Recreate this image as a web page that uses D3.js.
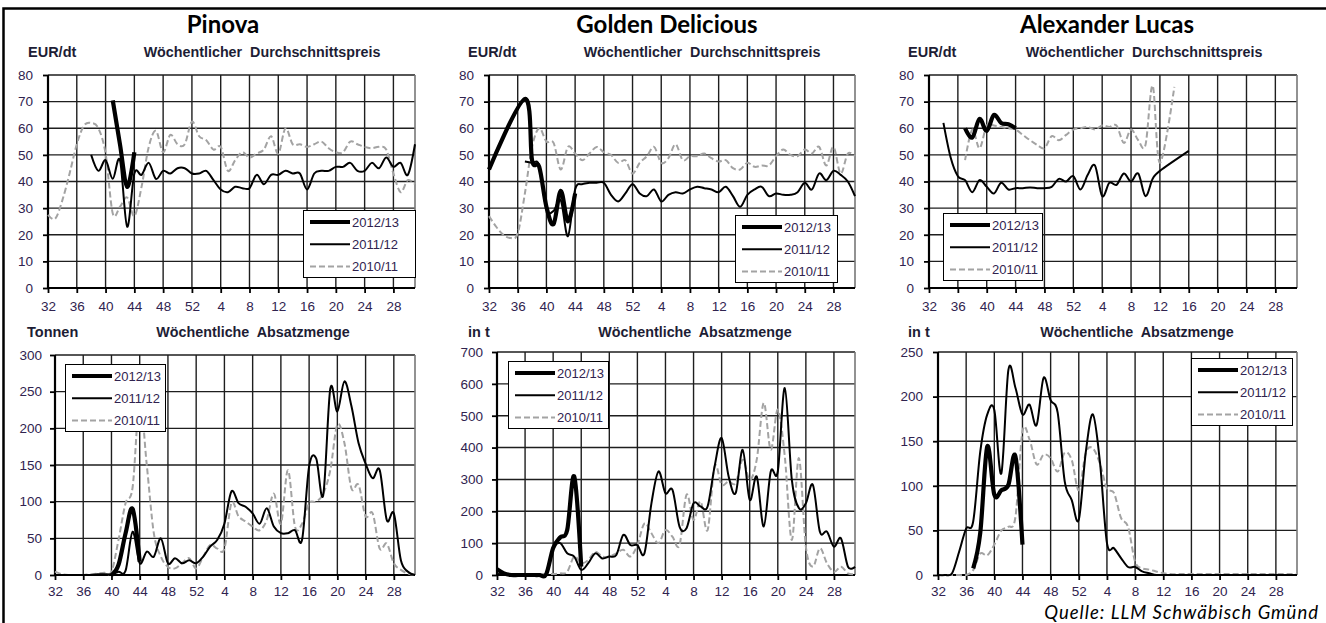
<!DOCTYPE html>
<html>
<head>
<meta charset="utf-8">
<script src="https://cdn.jsdelivr.net/npm/d3@7"></script>
<style>
body { margin: 0; background: #fff; }
svg { display: block; }
</style>
</head>
<body>
<svg id="chart" width="1326" height="623"></svg>
<script>
var _ = null;

// calendar weeks of the marketing season: 32..52, then 1..31
var weeks = d3.range(32, 53).concat(d3.range(1, 32));
var weekTicks = [32, 36, 40, 44, 48, 52, 4, 8, 12, 16, 20, 24, 28];
var seasons = ['2012/13', '2011/12', '2010/11'];
var varieties = ['Pinova', 'Golden Delicious', 'Alexander Lucas'];

// weekly average price, EUR/dt
var pinovaPrice1213 = [_,_,_,_,_,_,_,_,_,70.5,54,38,51,_,_,_,_,_,_,_,_,_,_,_,_,_,_,_,_,_,_,_,_,_,_,_,_,_,_,_,_,_,_,_,_,_,_,_,_,_,_,_];
var pinovaPrice1112 = [_,_,_,_,_,_,50,44,48,41,48,23,43,42.5,47,41,44,43,45,45,43,43,44,40.5,37,36,38,37.5,37.5,42.5,39,42.5,42.5,44,43,43,37,43,44,44,45.5,45.5,47,44,44,47,45,49,45.5,47,42.5,54];
var pinovaPrice1011 = [27.5,26,33,43,54,61,62,60,50.5,28,30.5,34,27,38,53,59,51,57.5,54,54,62.5,57,55.5,52,53,44,48,51,49,50.5,52,57,50.5,60,54,54,53,54,55,52.5,51,51,55,54,53,52.5,53,52,43,36,40.5,39];

var goldenPrice1213 = [44.5,_,_,_,_,71,48,45.5,30.5,24,36.5,25,35.5,_,_,_,_,_,_,_,_,_,_,_,_,_,_,_,_,_,_,_,_,_,_,_,_,_,_,_,_,_,_,_,_,_,_,_,_,_,_,_];
var goldenPrice1112 = [_,_,_,_,_,47.5,47,46,29.5,29,33,19.5,37,39,39.5,39.5,39.5,35,32.5,35.5,39,35.5,34.5,37,32.5,35,36,35.5,37,38,37.5,37,36,38,34.5,30.5,35,37,38,34.5,35.5,35,35,36,39.5,37,43,40.5,44,42.5,40,34.5];
var goldenPrice1011 = [27,23,20,18.75,20.5,35.5,53,60,55,54.5,44.5,53,50.5,48,50.5,53,51,50,47,48,43,47,49.5,53,47,48.75,54,48,49.5,49.5,50.5,48.75,47.5,48,45,44.5,47,45.5,46,46,49.5,52,50,49.5,52,50.5,53,46,53,43,50.5,49.5];

var lucasPrice1213 = [_,_,_,_,_,60,56.5,63.5,59,65,62,61.5,60,_,_,_,_,_,_,_,_,_,_,_,_,_,_,_,_,_,_,_,_,_,_,_,_,_,_,_,_,_,_,_,_,_,_,_,_,_,_,_];
var lucasPrice1112 = [_,_,62,49,42,40.5,36,40.5,38,35.5,39.5,37,37.5,37.5,37.75,37.5,37.5,38,41,40,42,37,42.5,46,34.5,39.5,38.75,43,40,43,34.5,41,44,_,_,_,51.5,_,_,_,_,_,_,_,_,_,_,_,_,_,_,_];
var lucasPrice1011 = [_,_,_,_,_,48,59.5,52.5,61,61,60.5,60,59.5,57.5,55.5,53.75,52.5,57,55.5,57.5,59.5,60,60.5,59.5,61,60.5,61,54.5,59.5,55.5,53.75,76,47,_,75.5,_,_,_,_,_,_,_,_,_,_,_,_,_,_,_,_,_];

// weekly sales volume, t
var pinovaVol1213 = [_,_,_,_,_,_,_,_,0,14,57,90,18,_,_,_,_,_,_,_,_,_,_,_,_,_,_,_,_,_,_,_,_,_,_,_,_,_,_,_,_,_,_,_,_,_,_,_,_,_,_,_];
var pinovaVol1112 = [0,0,0,0,0,0,1,1,1,4.5,6,59,16,32,25,50,16,23,16,20,16,25,39,48,70,114,98,93,84,70,91,66,57,57,61,48,148,159,109,254,223,264,230,180,152,132,143,75,84,20,4.5,0];
var pinovaVol1011 = [4.5,1,0,0,0,1,2,3,4.5,48,98,120,240,150,57,25,11,9,16,23,9,25,41,36,36,98,80,73,66,61,75,111,70,143,66,70,98,100,111,143,205,180,118,123,80,84,36,43,16,7,2,0];

var goldenVol1213 = [18,5,0,0,0,0,0,2,85,118,141,309,26,_,_,_,_,_,_,_,_,_,_,_,_,_,_,_,_,_,_,_,_,_,_,_,_,_,_,_,_,_,_,_,_,_,_,_,_,_,_,_];
var goldenVol1112 = [3,2,2,2,2,2,3,5,84,100,68,58,16,37,68,52,58,63,126,94,94,68,225,325,257,267,152,147,225,215,215,341,430,309,257,393,236,309,152,325,325,587,299,210,225,283,136,136,89,115,26,26];
var goldenVol1011 = [3,3,3,3,3,3,3,3,3,5,10,58,37,47,73,58,58,68,79,58,94,162,131,100,141,120,94,252,173,231,141,341,283,294,288,362,299,362,540,393,519,372,110,367,89,26,84,37,10,26,5,3];

var lucasVol1213 = [_,_,_,_,_,7.5,47,144,90,95,101,133,34,_,_,_,_,_,_,_,_,_,_,_,_,_,_,_,_,_,_,_,_,_,_,_,_,_,_,_,_,_,_,_,_,_,_,_,_,_,_,_];
var lucasVol1112 = [0,0,2,26,52,60,138,180,185,114,230,210,180,191,168,221,196,182,105,84,62,138,180,127,36,30,19,9,9,4,2,0,0,0,0,0,0,0,0,0,0,0,0,0,0,0,0,0,0,0,0,0];
var lucasVol1011 = [0,0,0,0,0,5.5,24,22,34,50,54,65,161,152,124,135,131,116,137,129,95,137,142,125,97,92,64,54,15,7.5,6,4,2,1,1,1,1,1,1,1,1,1,1,1,1,1,1,1,1,1,1,1];

var priceTicks = [0, 10, 20, 30, 40, 50, 60, 70, 80];
var pinovaVolTicks = [0, 50, 100, 150, 200, 250, 300];
var goldenVolTicks = [0, 100, 200, 300, 400, 500, 600, 700];
var lucasVolTicks = [0, 50, 100, 150, 200, 250];

var styles = [
	{ stroke: '#000', width: 4.2, dash: null },
	{ stroke: '#000', width: 2, dash: null },
	{ stroke: '#a3a3a3', width: 2, dash: '6,3' }
];

var svg = d3.select('#chart');
var labelFont = '"Liberation Sans", Arial, sans-serif';
var tickColor = '#30234f';

// outer frame (only top and left visible)
svg.append('path')
	.attr('d', 'M3.5,623 L3.5,8.5 L1326,8.5')
	.attr('fill', 'none')
	.attr('stroke', '#000')
	.attr('stroke-width', 2.5);

var panels = [
	{ title: varieties[0], cx: 223, unit: 'EUR/dt', unitX: 28, subX: 262, subY: 57, name: 'Wöchentlicher\u00a0 Durchschnittspreis',
		x0: 48, x1: 415, y0: 75, y1: 288, ticks: priceTicks, pad: 10, xpad: 8,
		series: [pinovaPrice1213, pinovaPrice1112, pinovaPrice1011], legend: [303, 210, 112] },
	{ title: varieties[1], cx: 667, unit: 'EUR/dt', unitX: 468, subX: 702, subY: 57, name: 'Wöchentlicher\u00a0 Durchschnittspreis',
		x0: 489, x1: 855, y0: 75, y1: 288, ticks: priceTicks, pad: 10, xpad: 8,
		series: [goldenPrice1213, goldenPrice1112, goldenPrice1011], legend: [735, 215, 102] },
	{ title: varieties[2], cx: 1107, unit: 'EUR/dt', unitX: 908, subX: 1144, subY: 57, name: 'Wöchentlicher\u00a0 Durchschnittspreis',
		x0: 929, x1: 1297, y0: 75, y1: 288, ticks: priceTicks, pad: 10, xpad: 8,
		series: [lucasPrice1213, lucasPrice1112, lucasPrice1011], legend: [943, 213, 99] },
	{ unit: 'Tonnen', unitX: 27, subX: 253, subY: 337, name: 'Wöchentliche\u00a0 Absatzmenge',
		x0: 55, x1: 415, y0: 355, y1: 575, ticks: pinovaVolTicks, pad: 8, xpad: 6.5,
		series: [pinovaVol1213, pinovaVol1112, pinovaVol1011], legend: [65, 364, 100] },
	{ unit: 'in t', unitX: 468, subX: 695, subY: 337, name: 'Wöchentliche\u00a0 Absatzmenge',
		x0: 497, x1: 855, y0: 352, y1: 575, ticks: goldenVolTicks, pad: 9, xpad: 6.5,
		series: [goldenVol1213, goldenVol1112, goldenVol1011], legend: [508, 361, 100] },
	{ unit: 'in t', unitX: 908, subX: 1137, subY: 337, name: 'Wöchentliche\u00a0 Absatzmenge',
		x0: 938, x1: 1297, y0: 352, y1: 575, ticks: lucasVolTicks, pad: 10, xpad: 6.5,
		series: [lucasVol1213, lucasVol1112, lucasVol1011], legend: [1191, 358, 101] }
];

panels.forEach(drawPanel);

function drawPanel(p) {
	var g = svg.append('g');
	var yMax = d3.max(p.ticks);

	var xScale = d3.scaleLinear().domain([0, weeks.length - 1]).range([p.x0, p.x1]);
	var yScale = d3.scaleLinear().domain([0, yMax]).range([p.y1, p.y0]);
	var tickIdx = weekTicks.map(function(w) { return weeks.indexOf(w); });

	if (p.title) {
		g.append('text')
			.attr('x', p.cx).attr('y', 33)
			.attr('text-anchor', 'middle')
			.style('font-family', 'Lato, "Open Sans", sans-serif')
			.style('font-weight', 'bold')
			.style('font-size', '24px')
			.text(p.title);
	}
	g.append('text')
		.attr('x', p.unitX).attr('y', p.subY)
		.style('font-family', labelFont).style('font-weight', 'bold').style('font-size', '14.5px')
		.style('fill', '#1d1d35')
		.text(p.unit);
	g.append('text')
		.attr('x', p.subX).attr('y', p.subY)
		.attr('text-anchor', 'middle')
		.style('font-family', labelFont).style('font-weight', 'bold').style('font-size', '14.3px')
		.style('fill', '#1d1d35')
		.text(p.name);

	// grid
	g.selectAll('.hgrid').data(p.ticks.filter(function(t) { return t > 0; }))
		.enter().append('line')
		.attr('x1', p.x0).attr('x2', p.x1)
		.attr('y1', function(d) { return yScale(d); })
		.attr('y2', function(d) { return yScale(d); })
		.attr('stroke', '#1e1e1e').attr('stroke-width', 1.4);
	g.selectAll('.vgrid').data(tickIdx.slice(1))
		.enter().append('line')
		.attr('x1', function(d) { return xScale(d); })
		.attr('x2', function(d) { return xScale(d); })
		.attr('y1', p.y0).attr('y2', p.y1)
		.attr('stroke', '#1e1e1e').attr('stroke-width', 1.4);
	g.append('line')
		.attr('x1', p.x1).attr('x2', p.x1)
		.attr('y1', p.y0).attr('y2', p.y1)
		.attr('stroke', '#777').attr('stroke-width', 1.6);

	// axes
	var yAxis = g.append('g')
		.attr('transform', 'translate(' + p.x0 + ',0)')
		.call(d3.axisLeft(yScale).tickValues(p.ticks).tickSize(5).tickPadding(p.pad).tickSizeOuter(0));
	var xAxis = g.append('g')
		.attr('transform', 'translate(0,' + p.y1 + ')')
		.call(d3.axisBottom(xScale).tickValues(tickIdx).tickSize(5).tickPadding(p.xpad).tickSizeOuter(0)
			.tickFormat(function(d) { return weeks[d]; }));
	[yAxis, xAxis].forEach(function(a) {
		a.select('.domain').attr('stroke', '#000').attr('stroke-width', 2.2);
		a.selectAll('.tick line').attr('stroke', '#000').attr('stroke-width', 1.8);
		a.selectAll('.tick text')
			.style('font-family', labelFont).style('font-size', '13.5px').style('fill', tickColor);
	});
	xAxis.select('.domain').attr('d', 'M' + p.x0 + ',0H' + p.x1);
	yAxis.select('.domain').attr('d', 'M0,' + p.y1 + 'V' + p.y0);

	// season lines, oldest first so the current season sits on top
	var line = d3.line()
		.x(function(d) { return xScale(d.i); })
		.y(function(d) { return yScale(d.v); })
		.curve(d3.curveCatmullRom.alpha(0));
	[2, 1, 0].forEach(function(s) {
		var pts = p.series[s]
			.map(function(v, i) { return { i: i, v: v }; })
			.filter(function(d) { return d.v !== null; });
		g.append('path')
			.datum(pts)
			.attr('d', line)
			.attr('fill', 'none')
			.attr('stroke', styles[s].stroke)
			.attr('stroke-width', styles[s].width)
			.attr('stroke-dasharray', styles[s].dash)
			.attr('stroke-linejoin', 'round');
	});

	// legend
	var lx = p.legend[0], ly = p.legend[1], lw = p.legend[2];
	var leg = g.append('g');
	leg.append('rect')
		.attr('x', lx + 0.5).attr('y', ly + 0.5)
		.attr('width', lw).attr('height', 67)
		.attr('fill', '#fff').attr('stroke', '#000').attr('stroke-width', 1);
	seasons.forEach(function(name, s) {
		var ry = ly + 12 + s * 22.3;
		leg.append('line')
			.attr('x1', lx + 7).attr('x2', lx + 47)
			.attr('y1', ry).attr('y2', ry)
			.attr('stroke', styles[s].stroke)
			.attr('stroke-width', styles[s].width)
			.attr('stroke-dasharray', styles[s].dash);
		leg.append('text')
			.attr('x', lx + 49).attr('y', ry + 4.5)
			.style('font-family', labelFont).style('font-size', '13px').style('fill', tickColor)
			.text(name);
	});
}

svg.append('text')
	.attr('x', 1319).attr('y', 619)
	.attr('text-anchor', 'end')
	.style('font-family', 'Lato, "Open Sans", sans-serif')
	.style('font-style', 'italic')
	.style('font-size', '18.5px')
	.style('letter-spacing', '1px')
	.text('Quelle: LLM Schwäbisch Gmünd');
</script>
</body>
</html>
